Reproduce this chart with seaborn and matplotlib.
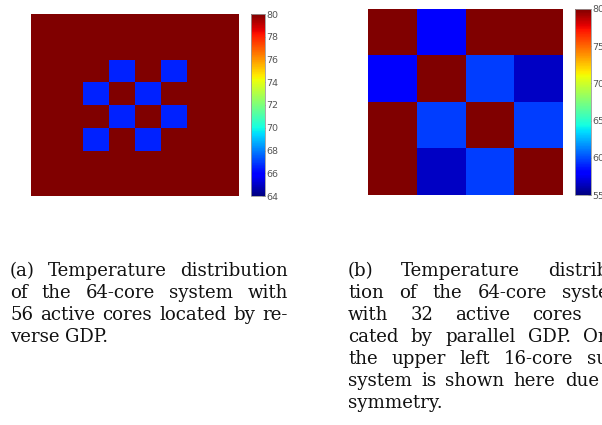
import numpy as np
import matplotlib
matplotlib.use("Agg")
import matplotlib.pyplot as plt
import seaborn as sns

# ---- data ----
R, B = 80.0, 66.5
a_rows = [
    [R, R, R, R, R, R, R, R],
    [R, R, R, R, R, R, R, R],
    [R, R, R, B, R, B, R, R],
    [R, R, B, R, B, R, R, R],
    [R, R, R, B, R, B, R, R],
    [R, R, B, R, B, R, R, R],
    [R, R, R, R, R, R, R, R],
    [R, R, R, R, R, R, R, R],
]
a_ticks = [64, 66, 68, 70, 72, 74, 76, 78, 80]
b_rows = [
    [80.0, 58.0, 80.0, 80.0],
    [58.0, 80.0, 59.6, 56.5],
    [80.0, 59.6, 80.0, 59.6],
    [80.0, 56.5, 59.6, 80.0],
]
b_ticks = [55, 60, 65, 70, 75, 80]

cap_a = ["(a) Temperature distribution",
         "of the 64-core system with",
         "56 active cores located by re-",
         "verse GDP."]
cap_b = ["(b) Temperature distribu-",
         "tion of the 64-core system",
         "with 32 active cores lo-",
         "cated by parallel GDP. Only",
         "the upper left 16-core sub-",
         "system is shown here due to",
         "symmetry."]

sns.set_style("white")
W, H = 602, 425
fig = plt.figure(figsize=(W / 100, H / 100), dpi=100)


def box(x0, y0, x1, y1):
    return [x0 / W, 1 - y1 / H, (x1 - x0) / W, (y1 - y0) / H]


def panel(data, ticks, hbox, cbox):
    ax = fig.add_axes(box(*hbox))
    cax = fig.add_axes(box(*cbox))
    sns.heatmap(np.array(data), ax=ax, cbar_ax=cax, cmap="jet",
                vmin=ticks[0], vmax=ticks[-1], xticklabels=False,
                yticklabels=False)
    cax.set_yticks(ticks)
    cax.set_yticklabels([str(t) for t in ticks])
    cax.tick_params(axis="y", direction="in", length=2, width=0.6,
                    labelsize=6.8, labelcolor="#555555", color="#444444",
                    pad=1)
    cbar = ax.collections[0].colorbar
    cbar.outline.set_edgecolor("#999999")
    cbar.outline.set_linewidth(0.6)
    return ax


panel(a_rows, a_ticks, (31, 14, 239, 196), (251, 14, 265, 196))
panel(b_rows, b_ticks, (368, 9, 563, 195), (575, 9, 591, 195))

# ---- justified captions ----
renderer = fig.canvas.get_renderer()
FAMILY = "DejaVu Serif"


def width_of(s, size):
    t = fig.text(0, 0, s, family=FAMILY, size=size)
    w = t.get_window_extent(renderer).width
    t.remove()
    return w


# fit font so the widest natural line of caption (a) just fills the column
COLW = 278
natural = max(width_of(l, 10) for l in cap_a[:-1])
SIZE = 10 * (COLW - 6) / natural
FONT = dict(family=FAMILY, size=SIZE, color="#111111")
SPACE = width_of("a b", SIZE) - width_of("ab", SIZE)


def caption(lines, x0, y0, width, lh):
    for i, line in enumerate(lines):
        y = y0 + i * lh
        words = line.split(" ")
        last = i == len(lines) - 1
        objs = [fig.text(0, 1 - y / H, w, va="baseline", ha="left", **FONT)
                for w in words]
        widths = [o.get_window_extent(renderer).width for o in objs]
        if last or len(words) == 1:
            gap = SPACE
        else:
            gap = (width - sum(widths)) / (len(words) - 1)
        x = x0
        for o, wd in zip(objs, widths):
            o.set_x(x / W)
            x += wd + gap


caption(cap_a, 10, 276, COLW, 22)
caption(cap_b, 348, 276, COLW, 22)

fig.savefig("out.png", dpi=100)
